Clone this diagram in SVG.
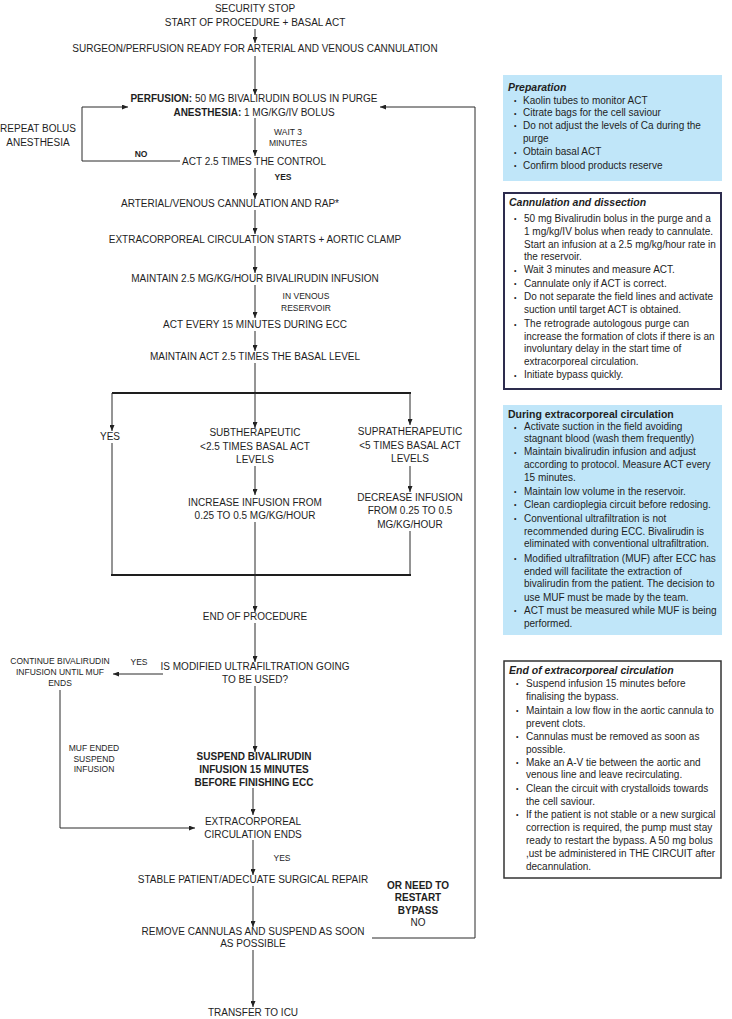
<svg xmlns="http://www.w3.org/2000/svg" width="732" height="1019" viewBox="0 0 732 1019">
<defs>
<marker id="ah" markerUnits="userSpaceOnUse" markerWidth="6" markerHeight="5" refX="6" refY="2.5" orient="auto">
<path d="M0,0 L6,2.5 L0,5 z" fill="#222"/>
</marker>
<style>
text{font-family:"Liberation Sans",Arial,sans-serif;fill:#1e1e1e}
.t{font-size:10px;text-anchor:middle}
.tb{font-size:10px;text-anchor:middle;font-weight:bold}
.s{font-size:8.5px;text-anchor:middle}
.sb{font-size:8.5px;text-anchor:middle;font-weight:bold}
.x{font-size:10px}
.bu{font-size:7px}
.h{font-size:10.5px;font-weight:bold;font-style:italic}
.hb{font-size:10.5px;font-weight:bold}
.c{fill:none;stroke:#2a2a2a;stroke-width:1}
.ca{fill:none;stroke:#2a2a2a;stroke-width:1;marker-end:url(#ah)}
.bar{fill:none;stroke:#1e1e1e;stroke-width:1.8}
</style>
</defs>
<rect width="732" height="1019" fill="#ffffff"/>

<g id="connectors">
<path class="ca" d="M255,29 V43"/>
<path class="ca" d="M255,56 V95"/>
<path class="ca" d="M255,118 V156"/>
<path class="ca" d="M180,161 H82 V107 H128"/>
<path class="ca" d="M255,168 V199"/>
<path class="ca" d="M255,210 V234"/>
<path class="ca" d="M255,246 V273"/>
<path class="ca" d="M255,285 V318"/>
<path class="ca" d="M255,331 V351"/>
<path class="c" d="M255,363 V393"/>
<path class="bar" d="M112,393 H411"/>
<path class="ca" d="M255,393 V428"/>
<path class="ca" d="M112,393 V431"/>
<path class="c" d="M112,443 V575"/>
<path class="ca" d="M410,393 V425"/>
<path class="ca" d="M255,466 V495"/>
<path class="ca" d="M410,466 V492"/>
<path class="c" d="M410,531 V575"/>
<path class="bar" d="M111,575 H411"/>
<path class="ca" d="M255,522 V612"/>
<path class="ca" d="M255,623 V662"/>
<path class="ca" d="M163,674 H113"/>
<path class="ca" d="M255,686 V752"/>
<path class="ca" d="M60,690 V828 H195"/>
<path class="ca" d="M253,788 V815"/>
<path class="ca" d="M253,840 V875"/>
<path class="ca" d="M253,886 V927"/>
<path class="ca" d="M253,950 V1007"/>
<path class="ca" d="M372,938 H475 V107 H380"/>
</g>

<g id="n-start">
<text class="t" x="255" y="11.5">SECURITY STOP</text>
<text class="t" x="255" y="25.5">START OF PROCEDURE + BASAL ACT</text>
</g>
<g id="n-ready"><text class="t" x="255" y="51.5">SURGEON/PERFUSION READY FOR ARTERIAL AND VENOUS CANNULATION</text></g>
<g id="n-bolus">
<text class="t" x="254" y="101.5"><tspan font-weight="bold">PERFUSION:</tspan> 50 MG BIVALIRUDIN BOLUS IN PURGE</text>
<text class="t" x="254" y="115.5"><tspan font-weight="bold">ANESTHESIA:</tspan> 1 MG/KG/IV BOLUS</text>
</g>
<g id="n-repeat">
<text class="t" x="38" y="131.5">REPEAT BOLUS</text>
<text class="t" x="38" y="145.5">ANESTHESIA</text>
</g>
<g id="l-wait">
<text class="s" x="288" y="135">WAIT 3</text>
<text class="s" x="288" y="146">MINUTES</text>
</g>
<g id="l-no"><text class="sb" x="141" y="156.5" font-size="9">NO</text></g>
<g id="n-act"><text class="t" x="254" y="164.5">ACT 2.5 TIMES THE CONTROL</text></g>
<g id="l-yes1"><text class="sb" x="283" y="180">YES</text></g>
<g id="n-cann"><text class="t" x="230" y="207">ARTERIAL/VENOUS CANNULATION AND RAP*</text></g>
<g id="n-ecc"><text class="t" x="255" y="242.5">EXTRACORPOREAL CIRCULATION STARTS + AORTIC CLAMP</text></g>
<g id="n-maint"><text class="t" x="255" y="281.5">MAINTAIN 2.5 MG/KG/HOUR  BIVALIRUDIN INFUSION</text></g>
<g id="l-venous">
<text class="s" x="306" y="299">IN VENOUS</text>
<text class="s" x="306" y="310.5">RESERVOIR</text>
</g>
<g id="n-act15"><text class="t" x="255" y="327.5">ACT EVERY 15 MINUTES DURING ECC</text></g>
<g id="n-maintact"><text class="t" x="255" y="359.5">MAINTAIN ACT 2.5 TIMES THE BASAL LEVEL</text></g>
<g id="n-yes"><text class="t" x="110" y="439.5">YES</text></g>
<g id="n-sub">
<text class="t" x="255" y="435.5">SUBTHERAPEUTIC</text>
<text class="t" x="255" y="449.5">&lt;2.5 TIMES BASAL ACT</text>
<text class="t" x="255" y="462.5">LEVELS</text>
</g>
<g id="n-supra">
<text class="t" x="410" y="434.5">SUPRATHERAPEUTIC</text>
<text class="t" x="410" y="448.5">&lt;5 TIMES BASAL ACT</text>
<text class="t" x="410" y="461.5">LEVELS</text>
</g>
<g id="n-inc">
<text class="t" x="255" y="505.5">INCREASE INFUSION FROM</text>
<text class="t" x="255" y="518.5">0.25 TO 0.5 MG/KG/HOUR</text>
</g>
<g id="n-dec">
<text class="t" x="410" y="500.5">DECREASE INFUSION</text>
<text class="t" x="410" y="513.5">FROM 0.25 TO 0.5</text>
<text class="t" x="410" y="527.5">MG/KG/HOUR</text>
</g>
<g id="n-end"><text class="t" x="255" y="619.5">END OF PROCEDURE</text></g>
<g id="n-muf">
<text class="t" x="255" y="669.5">IS MODIFIED ULTRAFILTRATION GOING</text>
<text class="t" x="255" y="682.5">TO BE USED?</text>
</g>
<g id="l-yes2"><text class="s" x="139" y="665">YES</text></g>
<g id="n-continue">
<text class="s" x="60" y="664">CONTINUE BIVALIRUDIN</text>
<text class="s" x="60" y="675">INFUSION UNTIL MUF</text>
<text class="s" x="60" y="686">ENDS</text>
</g>
<g id="l-mufended">
<text class="s" x="94" y="751" font-size="7.5">MUF ENDED</text>
<text class="s" x="94" y="761.5" font-size="7.5">SUSPEND</text>
<text class="s" x="94" y="772" font-size="7.5">INFUSION</text>
</g>
<g id="n-suspend">
<text class="tb" x="254" y="759.5">SUSPEND BIVALIRUDIN</text>
<text class="tb" x="254" y="772.5">INFUSION 15 MINUTES</text>
<text class="tb" x="254" y="785.5">BEFORE FINISHING ECC</text>
</g>
<g id="n-eccends">
<text class="t" x="253" y="824.5">EXTRACORPOREAL</text>
<text class="t" x="253" y="837.5">CIRCULATION ENDS</text>
</g>
<g id="l-yes3"><text class="s" x="282" y="860.5" font-size="9">YES</text></g>
<g id="n-stable"><text class="t" x="253" y="882.5">STABLE PATIENT/ADECUATE SURGICAL REPAIR</text></g>
<g id="l-restart">
<text class="tb" x="418" y="888.5" font-size="9.5">OR NEED TO</text>
<text class="tb" x="418" y="900.5" font-size="9.5">RESTART</text>
<text class="tb" x="418" y="913.5" font-size="9.5">BYPASS</text>
<text class="t" x="418" y="926" font-size="9">NO</text>
</g>
<g id="n-remove">
<text class="t" x="253" y="934.5">REMOVE CANNULAS AND SUSPEND AS SOON</text>
<text class="t" x="253" y="947">AS POSSIBLE</text>
</g>
<g id="n-icu"><text class="t" x="253" y="1015.5">TRANSFER TO ICU</text></g>

<g id="box-preparation">
<rect x="503" y="75" width="219" height="106" fill="#c0e6f9"/>
<text class="h" x="508" y="90.5">Preparation</text>
<text class="bu" x="514" y="103">•</text><text class="x" x="523" y="103.5">Kaolin tubes to monitor ACT</text>
<text class="bu" x="514" y="115.5">•</text><text class="x" x="523" y="116">Citrate bags for the cell saviour</text>
<text class="bu" x="514" y="128">•</text><text class="x" x="523" y="128.5">Do not adjust the levels of Ca during the</text>
<text class="x" x="523" y="141.5">purge</text>
<text class="bu" x="514" y="154.5">•</text><text class="x" x="523" y="155">Obtain basal ACT</text>
<text class="bu" x="514" y="168">•</text><text class="x" x="523" y="168.5">Confirm blood products reserve</text>
</g>

<g id="box-cannulation">
<rect x="504" y="193" width="217" height="196" fill="#ffffff" stroke="#2d2c4e" stroke-width="2"/>
<text class="h" x="509" y="206">Cannulation and dissection</text>
<text class="bu" x="514" y="221">•</text><text class="x" x="524" y="221.5">50 mg Bivalirudin bolus in the purge and a</text>
<text class="x" x="524" y="234.5">1 mg/kg/IV bolus when ready to cannulate.</text>
<text class="x" x="524" y="247.5">Start an infusion at a 2.5 mg/kg/hour rate in</text>
<text class="x" x="524" y="260">the reservoir.</text>
<text class="bu" x="514" y="272.5">•</text><text class="x" x="524" y="273">Wait 3 minutes and measure ACT.</text>
<text class="bu" x="514" y="286">•</text><text class="x" x="524" y="286.5">Cannulate only if ACT is correct.</text>
<text class="bu" x="514" y="299.5">•</text><text class="x" x="524" y="300">Do not separate the field lines and activate</text>
<text class="x" x="524" y="313">suction until target ACT is obtained.</text>
<text class="bu" x="514" y="326.5">•</text><text class="x" x="524" y="327">The retrograde autologous purge can</text>
<text class="x" x="524" y="339.5">increase the formation of clots if there is an</text>
<text class="x" x="524" y="352">involuntary delay in the start time of</text>
<text class="x" x="524" y="365">extracorporeal circulation.</text>
<text class="bu" x="514" y="377.5">•</text><text class="x" x="524" y="378">Initiate bypass quickly.</text>
</g>

<g id="box-during">
<rect x="503" y="405" width="219" height="230" fill="#c0e6f9"/>
<text class="hb" x="508" y="417.5">During extracorporeal circulation</text>
<text class="bu" x="514" y="429.5">•</text><text class="x" x="524" y="430">Activate suction in the field avoiding</text>
<text class="x" x="524" y="442">stagnant blood (wash them frequently)</text>
<text class="bu" x="514" y="454.5">•</text><text class="x" x="524" y="455">Maintain bivalirudin infusion and adjust</text>
<text class="x" x="524" y="467.5">according to protocol. Measure ACT every</text>
<text class="x" x="524" y="480.5">15 minutes.</text>
<text class="bu" x="514" y="494">•</text><text class="x" x="524" y="494.5">Maintain low volume in the reservoir.</text>
<text class="bu" x="514" y="507">•</text><text class="x" x="524" y="507.5">Clean cardioplegia circuit before redosing.</text>
<text class="bu" x="514" y="521">•</text><text class="x" x="524" y="521.5">Conventional ultrafiltration is not</text>
<text class="x" x="524" y="534.5">recommended during ECC. Bivalirudin is</text>
<text class="x" x="524" y="547">eliminated with conventional ultrafiltration.</text>
<text class="bu" x="514" y="561">•</text><text class="x" x="524" y="561.5">Modified ultrafiltration (MUF) after ECC has</text>
<text class="x" x="524" y="574.5">ended will facilitate the extraction of</text>
<text class="x" x="524" y="587">bivalirudin from the patient. The decision to</text>
<text class="x" x="524" y="600.5">use MUF must be made by the team.</text>
<text class="bu" x="514" y="613">•</text><text class="x" x="524" y="613.5">ACT must be measured while MUF is being</text>
<text class="x" x="524" y="626.5">performed.</text>
</g>

<g id="box-end">
<rect x="504" y="661" width="217" height="217" fill="#ffffff" stroke="#333333" stroke-width="1.5"/>
<text class="h" x="509" y="673.5">End of extracorporeal circulation</text>
<text class="bu" x="516" y="686">•</text><text class="x" x="526" y="686.5">Suspend infusion 15 minutes before</text>
<text class="x" x="526" y="699.5">finalising the bypass.</text>
<text class="bu" x="516" y="713">•</text><text class="x" x="526" y="713.5">Maintain a low flow in the aortic cannula to</text>
<text class="x" x="526" y="726.5">prevent clots.</text>
<text class="bu" x="516" y="739">•</text><text class="x" x="526" y="739.5">Cannulas must be removed as soon as</text>
<text class="x" x="526" y="752.5">possible.</text>
<text class="bu" x="516" y="765">•</text><text class="x" x="526" y="765.5">Make an A-V tie between the aortic and</text>
<text class="x" x="526" y="778">venous line and leave recirculating.</text>
<text class="bu" x="516" y="791">•</text><text class="x" x="526" y="791.5">Clean the circuit with crystalloids towards</text>
<text class="x" x="526" y="804.5">the cell saviour.</text>
<text class="bu" x="516" y="817">•</text><text class="x" x="526" y="817.5">If the patient is not stable or a new surgical</text>
<text class="x" x="526" y="830.5">correction is required, the pump must stay</text>
<text class="x" x="526" y="843.5">ready to restart the bypass. A 50 mg bolus</text>
<text class="x" x="526" y="856.5">,ust be administered in THE CIRCUIT after</text>
<text class="x" x="526" y="869.5">decannulation.</text>
</g>
</svg>
